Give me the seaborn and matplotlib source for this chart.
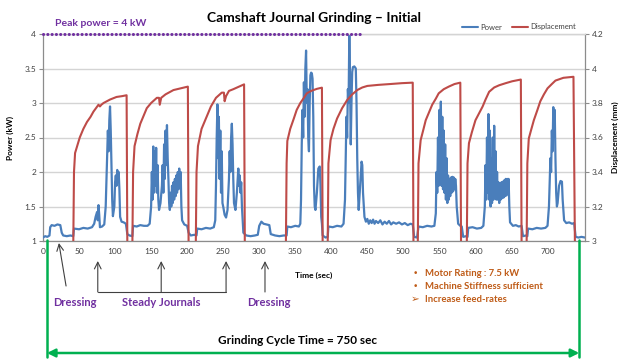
import matplotlib
matplotlib.use("Agg")
import matplotlib.pyplot as plt
import matplotlib.transforms as mtransforms
from matplotlib.lines import Line2D
import seaborn as sns

# Power trace (sec, kW)
power_t = [0, 3, 6, 9, 10, 12, 16, 20, 24, 26, 28, 33, 38, 42,
           43, 50, 56, 62, 68, 71, 73, 75, 76, 77, 78, 79, 82, 85, 87, 89, 90, 91, 92, 93, 94, 95, 96, 97,
           99, 100, 101, 102, 103, 104, 105, 106, 107, 109, 112, 115, 117, 120, 124,
           125, 130, 135, 140, 145, 148, 150, 151, 152, 153, 154, 155, 156, 157, 158, 159, 160, 161, 163,
           165, 166, 167, 168, 169, 170, 171, 172, 173, 174, 175, 176, 177, 178, 179, 180, 181, 182, 183,
           184, 185, 186, 187, 188, 189, 190, 191, 192, 193, 196, 200, 202, 205, 210, 213,
           214, 220, 226, 232, 237, 239, 240, 241, 242, 243, 244, 245, 246, 247, 248, 249, 250, 252, 254,
           256, 258, 259, 260, 261, 262, 263, 264, 265, 267, 269, 271, 272, 273, 274, 275, 276, 278, 282,
           288, 294, 298, 300, 303, 306, 310, 314, 316, 322, 328, 334, 338,
           339, 344, 350, 355, 357, 358, 359, 360, 361, 362, 363, 364, 365, 366, 367, 368, 369, 370, 371,
           372, 373, 374, 375, 376, 377, 378, 380, 382, 384, 385, 386, 387, 388, 392, 395,
           396, 402, 408, 414, 417, 419, 420, 421, 422, 423, 424, 425, 426, 427, 428, 429, 430, 432, 434,
           435, 436, 437, 438, 440, 442, 443, 444, 446, 448, 450, 452, 454, 456, 458, 460, 462, 465, 468,
           471, 474, 477, 480, 483, 486, 490, 494, 498, 502, 506, 510, 513, 515, 519,
           521, 527, 533, 539, 543, 545, 546, 547, 548, 549, 550, 551, 552, 553, 554, 555, 556, 557, 558,
           559, 560, 561, 562, 563, 564, 565, 566, 567, 568, 569, 570, 571, 572, 573, 574, 576, 579, 581,
           583, 587, 589,
           590, 596, 602, 608, 611, 613, 614, 615, 616, 617, 618, 619, 620, 621, 622, 623, 624, 625, 626,
           627, 628, 629, 630, 631, 632, 633, 634, 635, 636, 637, 638, 639, 640, 641, 642, 643, 644, 645,
           646, 647, 648, 652, 656, 660, 664, 666, 670, 672,
           673, 679, 685, 691, 697, 700, 702, 704, 705, 706, 707, 708, 709, 710, 711, 712, 713, 714, 716,
           718, 720, 721, 723, 726, 730, 734, 737, 739, 743, 747, 752]
power_kw = [1.05, 1.07, 1.06, 1.08, 1.20, 1.23, 1.22, 1.24, 1.23, 1.12, 1.08, 1.07, 1.08, 1.07,
            1.18, 1.17, 1.19, 1.18, 1.20, 1.25, 1.35, 1.42, 1.30, 1.52, 1.38, 1.20, 1.21, 1.24, 1.50, 2.20, 2.60, 2.30, 2.75, 2.95, 2.60, 2.10, 1.60, 1.36,
            1.50, 1.85, 1.95, 1.80, 2.03, 1.90, 2.00, 1.75, 1.35, 1.28, 1.27, 1.25, 1.10, 1.08, 1.07,
            1.22, 1.21, 1.23, 1.22, 1.22, 1.25, 1.50, 2.00, 1.60, 2.37, 1.70, 2.30, 1.80, 2.35, 1.70, 2.10, 1.60, 1.45, 1.55,
            1.80, 2.10, 1.70, 2.40, 1.90, 2.60, 2.10, 2.68, 2.20, 1.90, 1.55, 1.45, 1.70, 1.50, 1.80, 1.55, 1.85, 1.60, 1.90,
            1.65, 1.95, 1.70, 2.00, 1.75, 2.05, 1.80, 2.00, 1.50, 1.30, 1.24, 1.22, 1.12, 1.08, 1.09, 1.08,
            1.18, 1.17, 1.19, 1.18, 1.20, 1.30, 1.80, 2.50, 2.98, 2.20, 2.80, 1.90, 2.60, 1.70, 2.30, 1.55, 1.50, 1.38, 1.34,
            1.45, 1.90, 2.30, 2.00, 2.50, 2.70, 2.40, 1.90, 1.55, 1.45, 1.70, 2.05, 1.80, 1.95, 1.70, 1.85, 1.50, 1.12, 1.08,
            1.07, 1.08, 1.09, 1.22, 1.28, 1.25, 1.24, 1.23, 1.10, 1.08, 1.07, 1.08, 1.08,
            1.21, 1.20, 1.22, 1.21, 1.25, 1.60, 2.40, 2.90, 2.50, 3.30, 2.80, 3.50, 3.76, 3.00, 3.20, 2.50, 2.30, 3.00, 3.40,
            3.44, 3.43, 3.35, 2.80, 1.80, 1.50, 1.45, 1.70, 2.05, 2.08, 1.80, 1.35, 1.25, 1.08, 1.05, 1.06,
            1.21, 1.20, 1.22, 1.21, 1.25, 1.60, 2.20, 2.80, 2.50, 3.20, 3.00, 4.00, 3.30, 2.40, 3.00, 3.45, 3.52, 3.53, 3.50,
            3.00, 2.20, 1.70, 1.45, 1.80, 2.15, 2.10, 1.70, 1.35, 1.28, 1.32, 1.25, 1.30, 1.26, 1.31, 1.25, 1.29, 1.26, 1.30,
            1.24, 1.28, 1.25, 1.29, 1.24, 1.27, 1.25, 1.27, 1.24, 1.26, 1.23, 1.25, 1.24, 1.06, 1.05,
            1.21, 1.20, 1.22, 1.21, 1.22, 1.40, 2.00, 1.70, 2.50, 1.80, 2.90, 1.90, 3.02, 1.80, 2.80, 1.75, 2.60, 1.70, 2.40,
            1.60, 2.20, 1.55, 1.95, 1.60, 1.90, 1.65, 1.92, 1.70, 1.93, 1.72, 1.92, 1.75, 1.90, 1.80, 1.50, 1.25, 1.22, 1.21,
            1.06, 1.07, 1.06,
            1.19, 1.20, 1.18, 1.19, 1.22, 1.50, 2.10, 1.60, 2.50, 1.70, 2.84, 1.60, 2.60, 1.50, 2.20, 1.55, 2.50, 1.60, 2.67,
            1.65, 2.30, 1.60, 2.00, 1.60, 1.85, 1.55, 1.83, 1.60, 1.85, 1.62, 1.86, 1.63, 1.88, 1.65, 1.90, 1.66, 1.90, 1.70,
            1.90, 1.50, 1.27, 1.22, 1.23, 1.21, 1.22, 1.07, 1.08, 1.07,
            1.18, 1.17, 1.19, 1.18, 1.19, 1.22, 1.50, 2.20, 2.00, 2.60, 2.30, 2.94, 2.50, 2.90, 2.20, 1.70, 1.50, 1.55, 1.80,
            1.87, 1.86, 1.60, 1.30, 1.26, 1.27, 1.25, 1.26, 1.06, 1.05, 1.06, 1.05]

# Displacement trace (sec, mm)
disp_t = [0, 42, 43, 44.5, 51, 56, 61, 66, 70, 77, 79, 81, 84, 93, 102, 110, 116, 117,
          124, 125, 127, 131, 135, 140, 144, 150, 158, 161, 162, 164, 170, 181, 191, 201, 202,
          212, 213, 215, 220, 227, 233, 240, 248, 251, 252, 254, 258, 264, 272, 279, 280,
          337, 338, 339, 343, 348, 352, 357, 362, 366, 372, 380, 387, 388,
          395, 396, 399, 403, 408, 415, 422, 429, 436, 443, 450, 465, 482, 498, 513, 514,
          520, 521, 524, 528, 531, 536, 540, 545, 549, 556, 563, 571, 579, 580,
          588, 589, 591, 595, 600, 605, 610, 614, 619, 626, 633, 642, 651, 663, 664,
          671, 672, 674, 677, 681, 686, 690, 695, 700, 706, 711, 722, 736, 738, 752]
disp_mm = [2.98, 2.98, 3.40, 3.51, 3.60, 3.65, 3.69, 3.72, 3.75, 3.79, 3.78, 3.79, 3.80, 3.82, 3.835, 3.84, 3.845, 2.98,
           2.98, 3.40, 3.55, 3.62, 3.68, 3.73, 3.77, 3.80, 3.83, 3.83, 3.79, 3.83, 3.85, 3.875, 3.885, 3.895, 2.98,
           2.98, 3.40, 3.55, 3.65, 3.72, 3.78, 3.83, 3.86, 3.86, 3.81, 3.84, 3.87, 3.88, 3.895, 3.908, 2.98,
           2.98, 3.45, 3.58, 3.65, 3.71, 3.76, 3.80, 3.83, 3.856, 3.87, 3.882, 3.889, 2.98,
           2.98, 3.45, 3.585, 3.65, 3.71, 3.77, 3.817, 3.85, 3.875, 3.89, 3.899, 3.905, 3.91, 3.915, 3.918, 2.98,
           2.98, 3.45, 3.585, 3.65, 3.70, 3.75, 3.79, 3.825, 3.856, 3.88, 3.895, 3.91, 3.918, 2.98,
           2.98, 3.45, 3.567, 3.63, 3.70, 3.74, 3.78, 3.82, 3.865, 3.89, 3.903, 3.915, 3.926, 3.936, 2.98,
           2.98, 3.45, 3.594, 3.64, 3.70, 3.76, 3.81, 3.85, 3.885, 3.91, 3.93, 3.946, 3.952, 2.98, 2.98]

x_ticks = list(range(0, 701, 50))
power_ticks = [1, 1.5, 2, 2.5, 3, 3.5, 4]
disp_ticks = [3, 3.2, 3.4, 3.6, 3.8, 4, 4.2]
peak_power = 4
peak_span = [0, 440]
cycle_span = [5.5, 744]
dressing_times = [22, 308]
steady_times = [76, 164, 254]

BLUE = "#4A7EBB"
RED = "#BE4B48"
PURPLE = "#7030A0"
BROWN = "#BF5B17"
GREEN = "#00B050"
GRID = "#D4D4D4"
AXIS = "#8C8C8C"

W, H = 624, 360


def fy(py):
    # pixel row -> figure fraction
    return 1 - py / H


sns.set_theme(style="white")
plt.rcParams["font.family"] = ["Lato", "DejaVu Sans"]

fig = plt.figure(figsize=(W / 100, H / 100), dpi=100)
ax = fig.add_axes([43 / W, fy(241), 542 / W, 207 / H])
ax2 = ax.twinx()

sns.lineplot(x=power_t, y=power_kw, ax=ax, color=BLUE, lw=1.6, sort=False,
             estimator=None, label="Power", zorder=3)
sns.lineplot(x=disp_t, y=disp_mm, ax=ax2, color=RED, lw=1.5, sort=False,
             estimator=None, label="Displacement", zorder=3)

ax.set_xlim(0, 752)
ax.set_ylim(1, 4)
ax2.set_ylim(3, 4.2)

# peak power marker, drawn on the top axes so the spine does not cut through it
peak_on_ax2 = 3 + (peak_power - 1) * (4.2 - 3) / (4 - 1)
ax2.plot(peak_span, [peak_on_ax2, peak_on_ax2], color=PURPLE, lw=2.2,
         linestyle=(0, (0.05, 1.35)), dash_capstyle="round", clip_on=False, zorder=5)

ax.set_xticks(x_ticks)
ax.set_xticklabels([str(v) for v in x_ticks])
ax.set_yticks(power_ticks)
ax.set_yticklabels([f"{v:g}" for v in power_ticks])
ax2.set_yticks(disp_ticks)
ax2.set_yticklabels([f"{v:g}" for v in disp_ticks])

ax.grid(axis="y", color=GRID, lw=1)
ax.grid(axis="x", visible=False)
ax2.grid(False)
for a in (ax, ax2):
    a.tick_params(axis="both", labelsize=6, colors="#404040", length=3, width=0.8,
                  direction="out", pad=2)
    a.tick_params(axis="both", color=AXIS)
    for s in a.spines.values():
        s.set_color(AXIS)
        s.set_linewidth(0.9)
    a.spines["top"].set_color(GRID)
ax.spines["right"].set_visible(False)
ax2.spines["left"].set_visible(False)
ax2.spines["bottom"].set_visible(False)

ax.set_xlabel("Time (sec)", fontsize=6, fontweight="bold", color="black")
ax.xaxis.set_label_coords(0.5, -0.15)
ax.set_ylabel("Power (kW)", fontsize=6, fontweight="bold", color="black")
ax.yaxis.set_label_coords(-0.053, 0.5)
ax2.set_ylabel("Displacement (mm)", fontsize=6, fontweight="bold", color="black")
ax2.yaxis.set_label_coords(1.05, 0.5)

ax.get_legend().remove()
ax2.get_legend().remove()
handles = [Line2D([], [], color=BLUE, lw=1.5), Line2D([], [], color=RED, lw=1.5)]
fig.legend(handles, ["Power", "Displacement"], loc="center",
           bbox_to_anchor=(519 / W, fy(27)), ncol=2, frameon=False, fontsize=5.5,
           handlelength=2.2, handletextpad=0.3, columnspacing=1.2, labelcolor="#404040")

fig.text(314 / W, fy(18), "Camshaft Journal Grinding \u2013 Initial", ha="center",
         va="center", fontsize=10, fontweight="bold", color="black")
fig.text(55 / W, fy(24), "Peak power = 4 kW", ha="left", va="center", fontsize=7.5,
         fontweight="bold", color=PURPLE)

# annotations below the axis
blend = mtransforms.blended_transform_factory(ax.transData, fig.transFigure)
arrow_kw = dict(arrowstyle="->", color="#404040", lw=0.8, shrinkA=0, shrinkB=0)

ax.annotate("", xy=(dressing_times[0], fy(243)), xycoords=("data", "figure fraction"),
            xytext=(32, fy(286)), textcoords=("data", "figure fraction"),
            arrowprops=arrow_kw, annotation_clip=False)
ax.annotate("", xy=(dressing_times[1], fy(261)), xycoords=("data", "figure fraction"),
            xytext=(dressing_times[1], fy(292)), textcoords=("data", "figure fraction"),
            arrowprops=arrow_kw, annotation_clip=False)
for t in steady_times:
    ax.annotate("", xy=(t, fy(261)), xycoords=("data", "figure fraction"),
                xytext=(t, fy(292)), textcoords=("data", "figure fraction"),
                arrowprops=arrow_kw, annotation_clip=False)
fig.add_artist(Line2D([steady_times[0], steady_times[-1]], [fy(292), fy(292)],
                      transform=blend, color="#404040", lw=0.8))

fig.text(75 / W, fy(302), "Dressing", ha="center", va="center", fontsize=8,
         fontweight="bold", color=PURPLE)
fig.text(161 / W, fy(302), "Steady Journals", ha="center", va="center", fontsize=8,
         fontweight="bold", color=PURPLE)
fig.text(269 / W, fy(302), "Dressing", ha="center", va="center", fontsize=8,
         fontweight="bold", color=PURPLE)

notes = [("\u2022", "Motor Rating : 7.5 kW", 6.5),
         ("\u2022", "Machine Stiffness sufficient", 6.5),
         ("\u27A2", "Increase feed-rates", 7.5)]
for i, (mark, txt, msize) in enumerate(notes):
    y = fy(274 + 12.5 * i)
    fig.text(415 / W, y, mark, ha="center", va="center", fontsize=msize,
             color=BROWN, family=["DejaVu Sans"])
    fig.text(425 / W, y, txt, ha="left", va="center", fontsize=6.8,
             fontweight="bold", color=BROWN)

# cycle time marker
for t in cycle_span:
    fig.add_artist(Line2D([t, t], [fy(240), fy(357)], transform=blend,
                          color=GREEN, lw=1.8))
ax.annotate("", xy=(cycle_span[1], fy(353)), xycoords=("data", "figure fraction"),
            xytext=(cycle_span[0], fy(353)), textcoords=("data", "figure fraction"),
            arrowprops=dict(arrowstyle="<|-|>,head_length=0.4,head_width=0.2",
                            color=GREEN, lw=1.8, shrinkA=0, shrinkB=0),
            annotation_clip=False)
fig.text(297 / W, fy(340), "Grinding Cycle Time = 750 sec", ha="center", va="center",
         fontsize=8.5, fontweight="bold", color="black")

fig.savefig("out.png", dpi=100)
